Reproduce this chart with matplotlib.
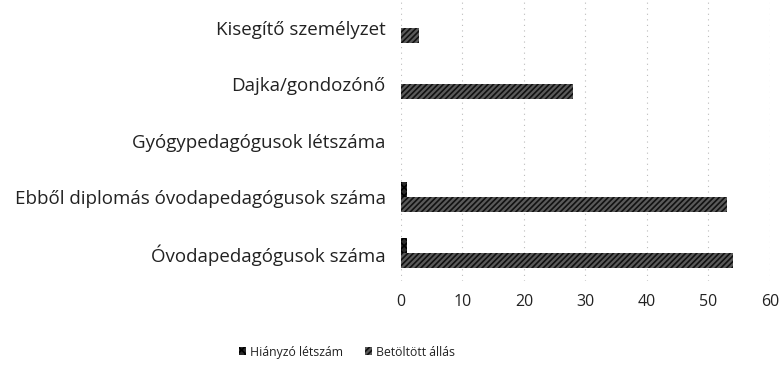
import numpy as np
import matplotlib.pyplot as plt

plt.rcParams['font.family'] = ['Open Sans', 'DejaVu Sans']
plt.rcParams['hatch.linewidth'] = 1.2

# data
categories = ['Óvodapedagógusok száma',
              'Ebből diplomás óvodapedagógusok száma',
              'Gyógypedagógusok létszáma',
              'Dajka/gondozónő',
              'Kisegítő személyzet']
hianyzo = [1, 1, 0, 0, 0]
betoltott = [54, 53, 0, 28, 3]
xticks = [0, 10, 20, 30, 40, 50, 60]

fig = plt.figure(figsize=(7.84, 3.66), dpi=100)
ax = fig.add_axes([0.5115, 0.232, 0.4705, 0.768])

y = np.arange(len(categories))
h = 0.265
ax.barh(y + h / 2, hianyzo, height=h, color='#2a2a2a', hatch='xxxx',
        edgecolor='#000000', linewidth=0, label='Hiányzó létszám')
ax.barh(y - h / 2, betoltott, height=h, color='#5a5a5a', hatch='//////',
        edgecolor='#111111', linewidth=0, label='Betöltött állás')

ax.set_xlim(0, 60)
ax.set_ylim(-0.5, 4.5)
ax.set_xticks(xticks)
ax.set_yticks(y)
ax.set_yticklabels(categories, fontsize=13.5, color='#222222')
ax.tick_params(axis='x', labelsize=11.5, colors='#222222', length=0, pad=9)
ax.tick_params(axis='y', length=0, pad=11)
ax.xaxis.grid(True, linestyle=(0, (1, 4)), color='#bbbbbb', linewidth=0.8)
ax.set_axisbelow(True)
for s in ax.spines.values():
    s.set_visible(False)

fig.legend(loc='center', bbox_to_anchor=(0.442, 0.038), ncol=2, frameon=False,
           fontsize=8.8, handlelength=0.6, handleheight=0.6, handletextpad=0.3,
           columnspacing=1.8, labelcolor='#222222')

fig.savefig('out.png', dpi=100)
